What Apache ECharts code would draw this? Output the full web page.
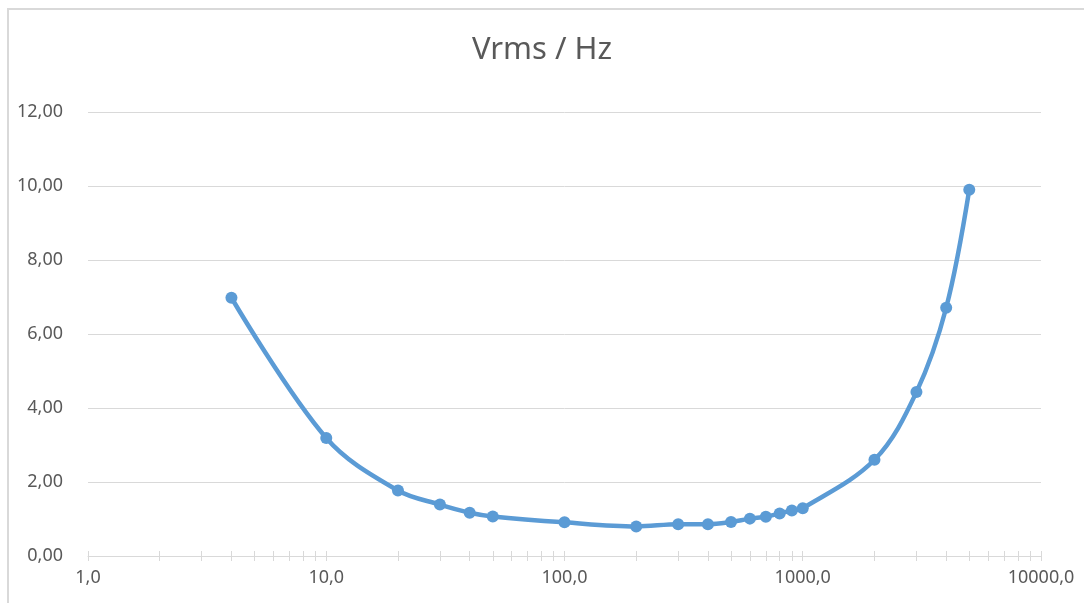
<!DOCTYPE html>
<html>
<head>
<meta charset="utf-8">
<script src="https://cdn.jsdelivr.net/npm/echarts@6/dist/echarts.min.js"></script>
<style>
html,body{margin:0;padding:0;background:#fff;overflow:hidden;}
#frame{position:absolute;left:7px;top:8px;width:1200px;height:700px;border-left:2px solid #d9d9d9;border-top:2px solid #d9d9d9;box-sizing:border-box;}
#chart{position:absolute;left:0;top:0;width:1084px;height:603px;}
</style>
</head>
<body>
<div id="frame"></div>
<div id="chart"></div>
<script>
const title = 'Vrms / Hz';
const frequencies = [4, 10, 20, 30, 40, 50, 100, 200, 300, 400, 500, 600, 700, 800, 900, 1000, 2000, 3000, 4000, 5000];
const vrms = [6.98, 3.19, 1.77, 1.39, 1.17, 1.07, 0.91, 0.80, 0.86, 0.86, 0.92, 1.01, 1.06, 1.15, 1.23, 1.29, 2.60, 4.43, 6.71, 9.90];
const xTickValues = [1,2,3,4,5,6,7,8,9,10,20,30,40,50,60,70,80,90,100,200,300,400,500,600,700,800,900,1000,2000,3000,4000,5000,6000,7000,8000,9000,10000];
const xLabelValues = [1, 10, 100, 1000, 10000];

const chart = echarts.init(document.getElementById('chart'), null, {renderer: 'canvas'});
const fmtX = v => Number(v).toFixed(1).replace('.', ',');
const fmtY = v => Number(v).toFixed(2).replace('.', ',');
const font = '"Noto Sans", "Liberation Sans", sans-serif';

chart.setOption({
  animation: false,
  backgroundColor: 'transparent',
  title: {
    text: title,
    left: 'center',
    top: 30,
    textStyle: {fontFamily: font, fontSize: 31, fontWeight: 'normal', color: '#595959'}
  },
  grid: {left: 88, right: 43, top: 112, bottom: 47, containLabel: false},
  xAxis: [{
    type: 'log',
    logBase: 10,
    min: 1,
    max: 10000,
    axisLine: {show: true, lineStyle: {color: '#d9d9d9', width: 1}},
    axisTick: {show: true, length: 5, customValues: xTickValues, lineStyle: {color: '#d9d9d9'}},
    axisLabel: {show: true, customValues: xLabelValues, formatter: fmtX, fontFamily: font, fontSize: 18, color: '#595959', margin: 13},
    splitLine: {show: false}
  }, {
    type: 'log',
    logBase: 10,
    min: 1,
    max: 10000,
    position: 'bottom',
    axisLine: {show: false},
    axisTick: {show: true, inside: true, length: 5, customValues: xTickValues, lineStyle: {color: '#d9d9d9'}},
    axisLabel: {show: false},
    splitLine: {show: false}
  }],
  yAxis: {
    type: 'value',
    min: 0,
    max: 12,
    interval: 2,
    axisLine: {show: false},
    axisTick: {show: false},
    axisLabel: {formatter: fmtY, fontFamily: font, fontSize: 18, color: '#595959', margin: 25},
    splitLine: {show: true, lineStyle: {color: '#d9d9d9', width: 1}}
  },
  series: [{
    type: 'line',
    xAxisIndex: 0,
    data: frequencies.map((f, i) => [f, vrms[i]]),
    smooth: 0.35,
    symbol: 'circle',
    symbolSize: 12,
    lineStyle: {color: '#5b9bd5', width: 4.5},
    itemStyle: {color: '#5b9bd5'}
  }]
});
</script>
</body>
</html>
